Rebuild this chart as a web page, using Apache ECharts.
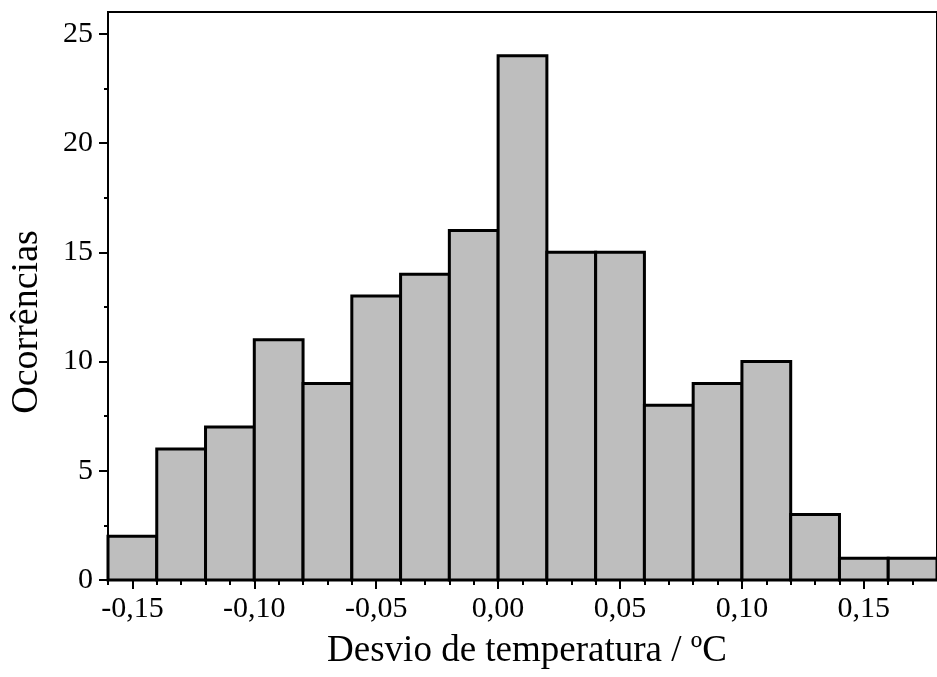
<!DOCTYPE html>
<html>
<head>
<meta charset="utf-8">
<script src="https://cdn.jsdelivr.net/npm/echarts@6/dist/echarts.min.js"></script>
<style>
html,body{margin:0;padding:0;background:#fff;}
#chart{width:937px;height:677px;}
</style>
</head>
<body>
<div id="chart"></div>
<script>
// Histogram data: bins of width 0.02 °C
const binStarts = [-0.16,-0.14,-0.12,-0.10,-0.08,-0.06,-0.04,-0.02,0.00,0.02,0.04,0.06,0.08,0.10,0.12,0.14,0.16];
const binWidth = 0.02;
const counts = [2,6,7,11,9,13,14,16,24,15,15,8,9,10,3,1,1];
const xMajorTicks = [-0.15,-0.10,-0.05,0.00,0.05,0.10,0.15];
const xMinorTicks = [-0.16,-0.14,-0.13,-0.12,-0.11,-0.09,-0.08,-0.07,-0.06,-0.04,-0.03,-0.02,-0.01,0.01,0.02,0.03,0.04,0.06,0.07,0.08,0.09,0.11,0.12,0.13,0.14,0.16,0.17];
const yMajorTicks = [0,5,10,15,20,25];
const yMinorTicks = [2.5,7.5,12.5,17.5,22.5];
const xTitle = 'Desvio de temperatura / ºC';
const yTitle = 'Ocorrências';

const font = 'Liberation Serif';
const data = binStarts.map((s,i)=>[s, +(s+binWidth).toFixed(2), counts[i]]);

const chart = echarts.init(document.getElementById('chart'), null, {renderer:'canvas'});
const axisColor = '#000';
chart.setOption({
  animation:false,
  backgroundColor:'#fff',
  grid:{left:108, top:12, right:-4, bottom:97, show:true, borderColor:'#000', borderWidth:2, backgroundColor:'transparent'},
  xAxis:[{
    type:'value', min:-0.16, max:0.18,
    axisLine:{show:true, onZero:false, lineStyle:{color:axisColor, width:2}},
    splitLine:{show:false},
    axisTick:{show:true, length:9, lineStyle:{color:axisColor, width:2}, customValues:xMajorTicks},
    axisLabel:{color:'#000', fontFamily:font, fontSize:30, margin:14, customValues:xMajorTicks,
      formatter:v=>v.toFixed(2).replace('.',',')}
  },{
    type:'value', min:-0.16, max:0.18, position:'bottom',
    axisLine:{show:false, onZero:false}, splitLine:{show:false},
    axisTick:{show:true, length:5, lineStyle:{color:axisColor, width:2}, customValues:xMinorTicks},
    axisLabel:{show:false}
  }],
  yAxis:[{
    type:'value', min:0, max:26,
    axisLine:{show:true, onZero:false, lineStyle:{color:axisColor, width:2}},
    splitLine:{show:false},
    axisTick:{show:true, length:9, lineStyle:{color:axisColor, width:2}, customValues:yMajorTicks},
    axisLabel:{color:'#000', fontFamily:font, fontSize:30, margin:15, customValues:yMajorTicks}
  },{
    type:'value', min:0, max:26, position:'left',
    axisLine:{show:false, onZero:false}, splitLine:{show:false},
    axisTick:{show:true, length:4, lineStyle:{color:axisColor, width:2}, customValues:yMinorTicks},
    axisLabel:{show:false}
  }],
  graphic:[
    {type:'text', x:527, y:651, style:{text:xTitle, font:'37px "Liberation Serif"', fill:'#000', align:'center', verticalAlign:'middle'}},
    {type:'text', x:27, y:322, rotation:Math.PI/2, style:{text:yTitle, font:'38px "Liberation Serif"', fill:'#000', align:'center', verticalAlign:'middle'}}
  ],
  series:[{
    type:'custom',
    xAxisIndex:0, yAxisIndex:0,
    encode:{x:[0,1], y:2},
    data:data,
    renderItem:function(params, api){
      const p0 = api.coord([api.value(0), api.value(2)]);
      const p1 = api.coord([api.value(1), 0]);
      return {type:'rect', shape:{x:p0[0], y:p0[1], width:p1[0]-p0[0], height:p1[1]-p0[1]},
        style:{fill:'#bebebe', stroke:'#000', lineWidth:3}};
    }
  }]
});
</script>
</body>
</html>
